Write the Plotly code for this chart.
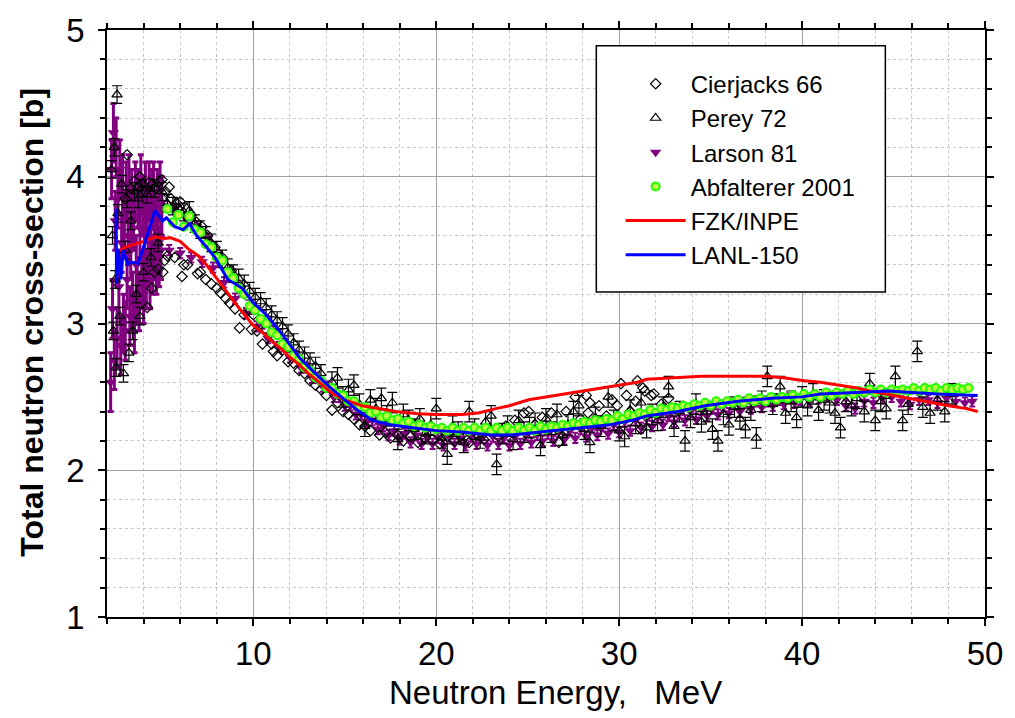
import plotly.graph_objects as go

# ---------------- data ----------------
# Cierjacks 66 (open diamonds)
cier_e = [3.00, 3.10, 3.30, 3.50, 3.70, 3.80, 3.95, 4.10, 4.20, 4.30,
          4.45, 4.50, 4.60, 4.65, 4.80, 4.85, 5.00, 5.05, 5.15, 5.20,
          5.30, 5.40, 5.50, 5.70, 5.80, 6.00, 6.10, 6.20, 6.35, 6.40,
          6.60, 6.90, 6.95, 7.10, 7.20, 7.40, 7.50, 7.70, 7.90, 8.00,
          8.20, 8.30, 8.50, 8.70, 8.80, 9.00, 9.25, 9.30, 9.50, 9.90,
          10.0, 10.2, 10.5, 10.7, 11.0, 11.1, 11.3, 11.6, 11.9, 12.2,
          12.5, 12.8, 13.1, 13.4, 13.7, 14.0, 14.3, 14.6, 14.9, 15.2,
          15.5, 15.8, 16.1, 16.4, 16.9, 17.2, 17.5, 17.9, 18.2, 18.6,
          19.0, 19.4, 19.8, 20.2, 20.6, 21.0, 21.4, 21.8, 22.2, 22.6,
          23.0, 23.4, 23.8, 24.3, 24.8, 25.05, 25.4, 25.8, 26.3, 26.7,
          27.1, 27.6, 27.9, 28.2, 28.3, 28.4, 28.9, 29.3, 29.6, 29.9,
          30.1, 30.4, 30.6, 30.9, 31.0, 31.2, 31.3, 31.4, 31.75, 31.9,
          32.3, 32.7, 33.1]
cier_xs = [3.85, 4.15, 3.92, 3.97, 3.93, 4.00, 3.95, 3.90, 3.11, 3.96,
           3.24, 3.95, 3.35, 3.92, 3.37, 3.97, 3.98, 3.35, 3.43, 3.90,
           3.46, 3.93, 3.85, 3.45, 3.82, 3.83, 3.32, 3.40, 3.78, 3.40,
           3.74, 3.69, 3.34, 3.35, 3.66, 3.30, 3.60, 3.27, 3.52, 3.24,
           3.21, 3.45, 3.17, 3.14, 3.36, 3.10, 2.97, 3.25, 3.06, 2.96,
           3.06, 2.95, 2.86, 2.96, 2.86, 2.81, 2.78, 2.82, 2.74, 2.73,
           2.68, 2.66, 2.61, 2.58, 2.55, 2.51, 2.41, 2.46, 2.40, 2.38,
           2.35, 2.31, 2.30, 2.27, 2.24, 2.26, 2.22, 2.24, 2.20, 2.23,
           2.19, 2.22, 2.21, 2.18, 2.23, 2.20, 2.24, 2.19, 2.25, 2.21,
           2.27, 2.23, 2.30, 2.34, 2.39, 2.40, 2.31, 2.36, 2.39, 2.19,
           2.40, 2.50, 2.35, 2.51, 2.39, 2.46, 2.44, 2.37, 2.48, 2.44,
           2.59, 2.51, 2.40, 2.47, 2.61, 2.28, 2.56, 2.54, 2.51, 2.52,
           2.45, 2.49, 2.42]

# Perey 72 (open triangles with error bars), low-energy part
perey_e_lo = [2.25, 2.30, 2.35, 2.40, 2.45, 2.50, 2.55, 2.60, 2.70, 2.80,
              2.90, 3.00, 3.10, 3.20, 3.30, 3.40, 3.50, 3.60, 3.70, 3.80,
              3.90, 4.00, 4.20, 4.40, 4.60, 4.80, 5.00, 5.30, 5.60, 5.90,
              6.20, 6.50, 6.80, 7.10, 7.40, 7.70, 8.00, 8.30, 8.60, 8.90,
              9.20, 9.50, 9.80, 10.1, 10.4, 10.7, 11.0, 11.3, 11.6, 11.9,
              12.2, 12.5, 12.8, 13.1, 13.4, 13.7]
perey_xs_lo = [4.05, 3.60, 2.95, 4.20, 3.30, 2.70, 4.56, 3.75, 3.05, 3.95,
               2.66, 3.50, 3.85, 2.80, 3.70, 2.95, 3.90, 3.20, 3.85, 3.05,
               3.92, 3.35, 3.88, 3.45, 3.92, 3.55, 3.90, 3.82, 3.80, 3.79,
               3.76, 3.77, 3.68, 3.64, 3.60, 3.55, 3.50, 3.44, 3.38, 3.34,
               3.31, 3.27, 3.22, 3.18, 3.15, 3.11, 3.06, 3.02, 2.98, 2.93,
               2.87, 2.82, 2.78, 2.74, 2.71, 2.66]
perey_err_lo = 0.06
# Perey 72, high-energy part
perey_e_hi = [14.3, 14.6, 14.9, 15.2, 15.5, 15.8, 16.1, 16.4, 16.7, 17.0,
              17.3, 17.6, 17.9, 18.2, 18.5, 18.8, 19.1, 19.4, 19.7, 20.0,
              20.3, 20.6, 20.9, 21.2, 21.5, 21.8, 22.1, 22.4, 22.7, 23.0,
              23.3, 23.6, 23.9, 24.2, 24.5, 24.8, 25.1, 25.4, 25.7, 26.0,
              26.3, 26.6, 26.9, 27.2, 27.5, 27.8, 28.1, 28.4, 28.7, 29.0,
              29.4, 29.7, 30.0, 30.3, 30.6, 30.9, 31.2, 31.5, 31.8, 32.1,
              32.4, 32.7, 33.0, 33.3, 33.6, 33.9, 34.2, 34.5, 34.8, 35.1,
              35.4, 35.7, 36.0, 36.3, 36.6, 36.9, 37.2, 37.5, 37.8, 38.1,
              38.4, 38.8, 39.1, 39.4, 39.7, 40.0, 40.3, 40.6, 40.9, 41.2,
              41.5, 41.8, 42.1, 42.4, 42.7, 43.0, 43.4, 43.7, 44.0, 44.3,
              44.6, 45.1, 45.5, 45.8, 46.3, 46.6, 47.0, 47.4, 47.8, 48.2]
perey_xs_hi = [2.60, 2.63, 2.50, 2.55, 2.58, 2.45, 2.30, 2.48, 2.42, 2.49,
               2.37, 2.46, 2.21, 2.38, 2.34, 2.28, 2.35, 2.25, 2.31, 2.42,
               2.22, 2.11, 2.30, 2.26, 2.19, 2.40, 2.28, 2.22, 2.33, 2.37,
               2.04, 2.25, 2.30, 2.21, 2.34, 2.26, 2.29, 2.32, 2.17, 2.35,
               2.26, 2.38, 2.24, 2.31, 2.40, 2.44, 2.28, 2.19, 2.36, 2.30,
               2.50, 2.34, 2.27, 2.23, 2.41, 2.32, 2.46, 2.29, 2.38, 2.34,
               2.43, 2.57, 2.30, 2.40, 2.20, 2.36, 2.45, 2.33, 2.40, 2.28,
               2.20, 2.38, 2.31, 2.43, 2.35, 2.29, 2.41, 2.22, 2.47, 2.64,
               2.45, 2.57, 2.39, 2.47, 2.36, 2.50, 2.44, 2.52, 2.41, 2.48,
               2.46, 2.39, 2.29, 2.47, 2.44, 2.49, 2.40, 2.59, 2.34, 2.47,
               2.42, 2.64, 2.34, 2.45, 2.81, 2.43, 2.39, 2.48, 2.40, 2.52]
perey_err_hi = 0.07

# Larson 81 (filled down-triangles), resonance region
larson_e_lo = [2.20, 2.25, 2.30, 2.35, 2.40, 2.45, 2.50, 2.55, 2.60, 2.65,
               2.70, 2.75, 2.80, 2.85, 2.90, 2.95, 3.00, 3.05, 3.10, 3.15,
               3.20, 3.25, 3.30, 3.35, 3.40, 3.45, 3.50, 3.55, 3.60, 3.65,
               3.70, 3.75, 3.80, 3.85, 3.90, 3.95, 4.00, 4.05, 4.10, 4.15,
               4.20, 4.25, 4.30, 4.35, 4.40, 4.45, 4.50, 4.55, 4.60, 4.65,
               4.70, 4.75, 4.80, 4.85, 4.90, 4.95, 5.00]
larson_xs_lo = [2.60, 4.05, 3.10, 4.30, 2.75, 3.70, 4.20, 2.90, 3.85, 3.25,
                4.05, 2.85, 3.55, 3.95, 3.00, 3.70, 2.95, 3.90, 3.30, 3.60,
                3.95, 3.05, 3.50, 3.85, 3.15, 3.70, 3.00, 3.90, 3.40, 3.20,
                3.85, 3.15, 3.65, 3.95, 3.30, 3.80, 3.20, 3.60, 3.90, 3.30,
                3.75, 3.45, 3.90, 3.30, 3.65, 3.85, 3.40, 3.90, 3.50, 3.70,
                3.40, 3.85, 3.55, 3.45, 3.90, 3.50, 3.80]
larson_err_lo = 0.2
# Larson 81, smooth region
larson_e = [5.1, 5.4, 5.7, 6.0, 6.3, 6.6, 6.9, 7.2, 7.5, 7.8,
            8.1, 8.4, 8.7, 9.0, 9.3, 9.6, 9.9, 10.2, 10.5, 10.8,
            11.1, 11.4, 11.7, 12.0, 12.3, 12.6, 12.9, 13.2, 13.5, 13.8,
            14.1, 14.4, 14.7, 15.0, 15.3, 15.6, 15.9, 16.2, 16.5, 16.8,
            17.1, 17.4, 17.7, 18.0, 18.3, 18.6, 18.9, 19.2, 19.5, 19.8,
            20.1, 20.4, 20.7, 21.0, 21.3, 21.6, 21.9, 22.2, 22.5, 22.8,
            23.1, 23.4, 23.7, 24.0, 24.3, 24.6, 24.9, 25.2, 25.5, 25.8,
            26.1, 26.4, 26.7, 27.0, 27.3, 27.6, 27.9, 28.2, 28.5, 28.8,
            29.1, 29.4, 29.7, 30.0, 30.3, 30.6, 30.9, 31.2, 31.5, 31.8,
            32.1, 32.4, 32.7, 33.0, 33.3, 33.6, 33.9, 34.2, 34.5, 34.8,
            35.1, 35.4, 35.7, 36.0, 36.3, 36.6, 36.9, 37.2, 37.5, 37.8,
            38.1, 38.4, 38.7, 39.0, 39.3, 39.6, 39.9, 40.4, 40.9, 41.4,
            41.9, 42.4, 42.9, 43.4, 43.9, 44.4, 44.9, 45.4, 45.9, 46.4,
            46.9, 47.4, 47.9, 48.4, 48.9, 49.3]
larson_xs = [3.80, 3.50, 3.78, 3.48, 3.72, 3.45, 3.66, 3.42, 3.58, 3.38,
             3.42, 3.28, 3.33, 3.17, 3.22, 3.07, 3.10, 2.98, 3.00, 2.90,
             2.95, 2.84, 2.86, 2.77, 2.78, 2.70, 2.70, 2.63, 2.63, 2.57,
             2.57, 2.50, 2.50, 2.44, 2.44, 2.38, 2.38, 2.33, 2.34, 2.28,
             2.30, 2.24, 2.27, 2.21, 2.25, 2.19, 2.24, 2.18, 2.23, 2.18,
             2.22, 2.17, 2.23, 2.18, 2.22, 2.17, 2.23, 2.18, 2.22, 2.17,
             2.23, 2.18, 2.22, 2.17, 2.23, 2.18, 2.24, 2.19, 2.24, 2.20,
             2.25, 2.20, 2.26, 2.21, 2.27, 2.22, 2.28, 2.23, 2.29, 2.24,
             2.30, 2.25, 2.31, 2.26, 2.33, 2.27, 2.34, 2.29, 2.35, 2.30,
             2.36, 2.31, 2.37, 2.33, 2.39, 2.34, 2.40, 2.35, 2.41, 2.37,
             2.42, 2.38, 2.44, 2.39, 2.45, 2.40, 2.46, 2.42, 2.47, 2.43,
             2.47, 2.44, 2.48, 2.45, 2.49, 2.46, 2.48, 2.47, 2.49, 2.51,
             2.48, 2.44, 2.42, 2.47, 2.46, 2.49, 2.50, 2.47, 2.45, 2.48,
             2.48, 2.46, 2.49, 2.47, 2.46, 2.47]
larson_err = 0.035

# Abfalterer 2001 (green circles)
abf_e = [5.3, 5.6, 5.9, 6.2, 6.5, 6.8, 7.1, 7.4, 7.7, 8.0,
         8.3, 8.6, 8.9, 9.2, 9.5, 9.8, 10.1, 10.4, 10.7, 11.0,
         11.3, 11.6, 11.9, 12.2, 12.5, 12.8, 13.1, 13.4, 13.7, 14.0,
         14.3, 14.6, 14.9, 15.2, 15.5, 15.8, 16.1, 16.4, 16.7, 17.0,
         17.3, 17.6, 17.9, 18.2, 18.5, 18.8, 19.1, 19.4, 19.7, 20.0,
         20.3, 20.6, 20.9, 21.2, 21.5, 21.8, 22.1, 22.4, 22.7, 23.0,
         23.3, 23.6, 23.9, 24.2, 24.5, 24.8, 25.1, 25.4, 25.7, 26.0,
         26.3, 26.6, 26.9, 27.2, 27.5, 27.8, 28.1, 28.4, 28.7, 29.0,
         29.3, 29.6, 29.9, 30.2, 30.5, 30.8, 31.1, 31.4, 31.7, 32.0,
         32.3, 32.6, 32.9, 33.2, 33.5, 33.8, 34.1, 34.4, 34.7, 35.0,
         35.3, 35.6, 35.9, 36.2, 36.5, 36.8, 37.1, 37.4, 37.7, 38.0,
         38.3, 38.6, 38.9, 39.2, 39.5, 39.8, 40.1, 40.4, 40.7, 41.0,
         41.3, 41.6, 41.9, 42.2, 42.5, 42.8, 43.1, 43.4, 43.7, 44.0,
         44.3, 44.6, 44.9, 45.2, 45.5, 45.8, 46.1, 46.4, 46.7, 47.0,
         47.3, 47.6, 47.9, 48.2, 48.5, 48.8, 49.1]
abf_xs = [3.78, 3.69, 3.74, 3.66, 3.73, 3.64, 3.62, 3.54, 3.52, 3.45,
          3.43, 3.35, 3.31, 3.24, 3.20, 3.12, 3.09, 3.03, 3.00, 2.94,
          2.92, 2.86, 2.84, 2.78, 2.76, 2.70, 2.68, 2.63, 2.61, 2.56,
          2.56, 2.52, 2.51, 2.47, 2.47, 2.43, 2.43, 2.39, 2.40, 2.36,
          2.37, 2.34, 2.35, 2.32, 2.33, 2.30, 2.31, 2.29, 2.30, 2.28,
          2.29, 2.27, 2.29, 2.27, 2.29, 2.27, 2.29, 2.27, 2.29, 2.27,
          2.29, 2.27, 2.29, 2.27, 2.29, 2.27, 2.29, 2.27, 2.30, 2.28,
          2.30, 2.29, 2.31, 2.30, 2.32, 2.31, 2.33, 2.32, 2.34, 2.33,
          2.35, 2.34, 2.37, 2.35, 2.38, 2.37, 2.39, 2.38, 2.41, 2.39,
          2.42, 2.41, 2.43, 2.42, 2.44, 2.43, 2.45, 2.44, 2.46, 2.44,
          2.47, 2.45, 2.47, 2.46, 2.48, 2.46, 2.49, 2.47, 2.49, 2.47,
          2.50, 2.48, 2.50, 2.49, 2.51, 2.49, 2.52, 2.50, 2.52, 2.50,
          2.53, 2.51, 2.53, 2.52, 2.54, 2.52, 2.54, 2.53, 2.55, 2.53,
          2.55, 2.53, 2.55, 2.54, 2.55, 2.54, 2.56, 2.54, 2.56, 2.55,
          2.56, 2.54, 2.56, 2.55, 2.56, 2.55, 2.56]

# FZK/INPE evaluation (red line)
fzk_e = [2.55, 2.62, 3.0, 3.53, 4.0, 4.62, 5.16, 5.45, 6.0, 6.43,
         7.0, 7.5, 8.0, 8.52, 9.0, 9.5, 9.97, 10.5, 11.0, 11.5,
         12.0, 12.5, 13.0, 13.5, 14.15, 14.5, 15.0, 15.95, 17.0, 17.8,
         19.0, 20.0, 21.4, 22.3, 23.25, 24.0, 25.05, 26.0, 27.0, 28.0,
         29.0, 30.0, 31.0, 31.5, 33.0, 34.5, 36.0, 38.0, 39.0, 40.1,
         41.0, 42.0, 43.0, 43.7, 45.0, 46.1, 47.0, 48.0, 49.0, 49.6]
fzk_xs = [3.46, 3.49, 3.52, 3.54, 3.56, 3.59, 3.58, 3.585, 3.56, 3.51,
          3.46, 3.39, 3.31, 3.22, 3.14, 3.06, 2.99, 2.94, 2.88, 2.83,
          2.77, 2.72, 2.66, 2.61, 2.54, 2.51, 2.48, 2.44, 2.42, 2.40,
          2.385, 2.38, 2.38, 2.39, 2.42, 2.44, 2.48, 2.50, 2.52, 2.54,
          2.56, 2.58, 2.60, 2.62, 2.63, 2.64, 2.64, 2.64, 2.63, 2.61,
          2.60, 2.58, 2.56, 2.54, 2.51, 2.48, 2.46, 2.44, 2.42, 2.40]

# LANL-150 evaluation (blue line)
lanl_e = [2.50, 2.52, 2.62, 2.76, 2.89, 3.13, 3.25, 3.70, 4.07, 4.62,
          5.05, 5.25, 5.70, 6.16, 6.52, 6.89, 7.45, 7.90, 8.60, 9.40,
          10.0, 10.7, 11.5, 12.5, 13.3, 14.15, 15.0, 15.8, 16.5, 17.5,
          18.7, 20.0, 21.4, 23.0, 24.1, 25.6, 27.9, 29.5, 30.7, 31.5,
          33.2, 34.7, 36.5, 38.3, 40.0, 41.0, 43.0, 44.7, 46.0, 47.4,
          49.6]
lanl_xs = [3.78, 3.27, 3.51, 3.30, 3.50, 3.40, 3.42, 3.41, 3.55, 3.77,
           3.70, 3.72, 3.66, 3.64, 3.68, 3.60, 3.52, 3.45, 3.30, 3.24,
           3.14, 3.06, 2.94, 2.77, 2.67, 2.57, 2.48, 2.40, 2.34, 2.31,
           2.29, 2.27, 2.26, 2.24, 2.24, 2.26, 2.29, 2.31, 2.34, 2.37,
           2.40, 2.44, 2.47, 2.49, 2.50, 2.52, 2.53, 2.54, 2.53, 2.52,
           2.51]

x_ticks = [10, 20, 30, 40, 50]
y_ticks = [1, 2, 3, 4, 5]

# ---------------- figure ----------------
PURPLE = "#800080"
FONT = "Arial, Liberation Sans"
fig = go.Figure()

fig.add_trace(go.Scatter(
    x=larson_e_lo, y=larson_xs_lo, mode="markers", showlegend=False,
    marker=dict(symbol="triangle-down", size=10, color=PURPLE),
    error_y=dict(type="constant", value=larson_err_lo, color=PURPLE, thickness=3, width=3)))
fig.add_trace(go.Scatter(
    x=larson_e, y=larson_xs, mode="markers", name="Larson 81", legendrank=3,
    marker=dict(symbol="triangle-down", size=10, color=PURPLE),
    error_y=dict(type="constant", value=larson_err, color=PURPLE, thickness=2, width=3)))
fig.add_trace(go.Scatter(
    x=cier_e, y=cier_xs, mode="markers", name="Cierjacks 66", legendrank=1,
    marker=dict(symbol="diamond-open", size=8, color="black", line=dict(width=1.2))))
fig.add_trace(go.Scatter(
    x=perey_e_lo, y=perey_xs_lo, mode="markers", showlegend=False,
    marker=dict(symbol="triangle-up-open", size=9, color="black", line=dict(width=1.2)),
    error_y=dict(type="constant", value=perey_err_lo, color="black", thickness=1.2, width=5)))
fig.add_trace(go.Scatter(
    x=perey_e_hi, y=perey_xs_hi, mode="markers", name="Perey 72", legendrank=2,
    marker=dict(symbol="triangle-up-open", size=9, color="black", line=dict(width=1.2)),
    error_y=dict(type="constant", value=perey_err_hi, color="black", thickness=1.2, width=5)))
fig.add_trace(go.Scatter(
    x=abf_e, y=abf_xs, mode="markers", name="Abfalterer 2001", legendrank=4,
    marker=dict(symbol="circle", size=8, color="#bbff44", line=dict(width=2, color="#22ff00"))))
fig.add_trace(go.Scatter(
    x=fzk_e, y=fzk_xs, mode="lines", name="FZK/INPE", legendrank=5,
    line=dict(color="#ff0000", width=3)))
fig.add_trace(go.Scatter(
    x=lanl_e, y=lanl_xs, mode="lines", name="LANL-150", legendrank=6,
    line=dict(color="#0000ff", width=3)))

axis_common = dict(
    showline=True, linecolor="black", linewidth=1.5, mirror="allticks",
    ticks="outside", ticklen=7, tickwidth=1.5, tickcolor="black",
    showgrid=True, gridcolor="#a0a0a0", gridwidth=1, zeroline=False,
    tickfont=dict(family=FONT, size=33, color="black"),
)

fig.update_xaxes(range=[2, 50], tickvals=x_ticks,
                 minor=dict(dtick=2, tick0=0, ticks="outside", ticklen=5, tickcolor="black",
                            showgrid=True, gridcolor="#c8c8c8", griddash="dot", gridwidth=1),
                 ticklabelstandoff=0, **axis_common)
fig.update_yaxes(range=[1, 5], tickvals=y_ticks,
                 minor=dict(dtick=0.2, tick0=0, ticks="outside", ticklen=5, tickcolor="black",
                            showgrid=True, gridcolor="#c8c8c8", griddash="dot", gridwidth=1),
                 ticklabelstandoff=7, **axis_common)

fig.update_layout(
    width=1015, height=718,
    margin=dict(l=107, r=27, t=21, b=101),
    paper_bgcolor="white", plot_bgcolor="white",
    font=dict(family=FONT, color="black"),
    legend=dict(x=0.585, y=0.946, xanchor="left", yanchor="top",
                bgcolor="rgba(0,0,0,0)", borderwidth=0,
                font=dict(size=24, family=FONT),
                itemwidth=60, traceorder="normal"),
    shapes=[dict(type="rect", xref="paper", yref="paper",
                 x0=0.5573, x1=0.8865, y0=0.5537, y1=0.9732,
                 fillcolor="white", line=dict(color="black", width=1.5), layer="above")],
    annotations=[
        dict(text="Neutron Energy,&nbsp;&nbsp; MeV", xref="paper", yref="paper",
             x=0.511, y=-0.128, showarrow=False, xanchor="center", yanchor="middle",
             font=dict(size=33, family=FONT)),
        dict(text="<b>Total neutron cross-section [b]</b>", xref="paper", yref="paper",
             x=-0.085, y=0.502, showarrow=False, textangle=-90, xanchor="center", yanchor="middle",
             font=dict(size=32, family=FONT)),
    ],
)

fig.write_html("out.html")
